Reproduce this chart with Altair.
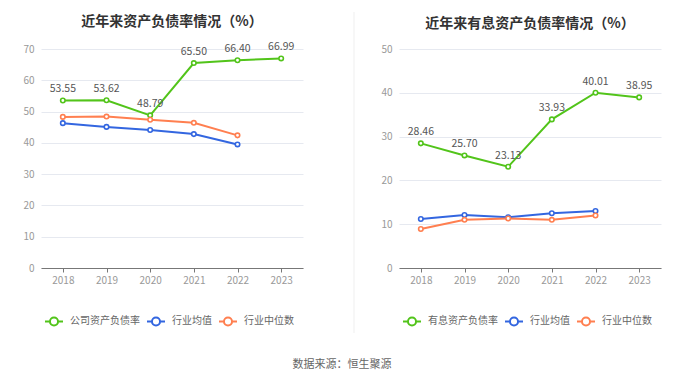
import altair as alt
import pandas as pd

years = ["2018", "2019", "2020", "2021", "2022", "2023"]
years5 = years[:5]

left_company = [53.55, 53.62, 48.79, 65.50, 66.40, 66.99]
left_mean = [46.3, 45.1, 44.1, 42.8, 39.5]
left_median = [48.3, 48.4, 47.4, 46.4, 42.4]

right_company = [28.46, 25.70, 23.13, 33.93, 40.01, 38.95]
right_mean = [11.2, 12.1, 11.6, 12.5, 13.0]
right_median = [8.9, 11.0, 11.3, 11.0, 12.0]

FONT = "Noto Sans CJK SC"
GREEN = "#52c41a"
BLUE = "#3366e0"
ORANGE = "#ff7f50"

SYMBOL = "M-1,0L-0.45,0M0.45,0L1,0M-0.45,0A0.45,0.45,0,1,1,0.45,0A0.45,0.45,0,1,1,-0.45,0"


def make_df(company_name, company, mean, median):
    rows = []
    for y, v in zip(years, company):
        rows.append({"year": y, "value": v, "series": company_name})
    for y, v in zip(years5, mean):
        rows.append({"year": y, "value": v, "series": "行业均值"})
    for y, v in zip(years5, median):
        rows.append({"year": y, "value": v, "series": "行业中位数"})
    return pd.DataFrame(rows)


def panel(title, company_name, company, mean, median, ymax):
    df = make_df(company_name, company, mean, median)
    x = alt.X("year:O", title=None, sort=years,
              scale=alt.Scale(type="point", padding=0.5),
              axis=alt.Axis(labelAngle=0, labelColor="#999", labelFontSize=10,
                            domainColor="#777", tickColor="#777", tickSize=4,
                            labelPadding=3, grid=False, labelFont=FONT))
    y = alt.Y("value:Q", title=None,
              scale=alt.Scale(domain=[0, ymax], nice=False),
              axis=alt.Axis(values=list(range(0, ymax + 1, 10)),
                            labelColor="#999", labelFontSize=10, domain=False, ticks=False,
                            gridColor="#e6e9f0", labelPadding=7, labelFont=FONT))
    cscale = alt.Scale(domain=[company_name, "行业均值", "行业中位数"],
                       range=[GREEN, BLUE, ORANGE])
    color = alt.Color("series:N", title=None, scale=cscale,
                      legend=alt.Legend(orient="none", legendX=3, legendY=262,
                                        direction="horizontal",
                                        symbolType=SYMBOL, symbolSize=324,
                                        symbolStrokeWidth=2, labelColor="#666",
                                        labelFontSize=10, labelFont=FONT,
                                        columnPadding=3, labelOffset=6))
    base = alt.Chart(df)
    lines = base.mark_line(strokeWidth=2).encode(
        x=x, y=y, color=color, detail="series:N")
    pts = base.mark_point(filled=False, fill="white", size=20, strokeWidth=1.6, opacity=1).encode(
        x=x, y=y, color=alt.Color("series:N", legend=None, scale=cscale))
    labels = base.transform_filter(alt.datum.series == company_name).mark_text(
        dy=-11, fontSize=10.5, color="#555", font=FONT).encode(
        x=x, y=y, text=alt.Text("value:Q", format=".2f"))
    return alt.layer(lines, pts, labels).properties(
        width=262, height=219,
        title=alt.TitleParams(title, fontSize=14, font=FONT, fontWeight="bold",
                              color="#333", anchor="middle", offset=13))


left = panel("近年来资产负债率情况（%）", "公司资产负债率", left_company, left_mean, left_median, 70)
right = panel("近年来有息资产负债率情况（%）", "有息资产负债率", right_company, right_mean, right_median, 50)

divider = alt.Chart(pd.DataFrame({"k": [0]})).mark_rule(color="#efefef", strokeWidth=1).encode(
    x=alt.value(41), y=alt.value(-37), y2=alt.value(284)).properties(width=57, height=219)

chart = alt.hconcat(left, divider, right, spacing=10).resolve_scale(color="independent").properties(
    title=alt.TitleParams("数据来源：恒生聚源", orient="bottom", anchor="middle",
                          fontSize=11, font=FONT, color="#666", fontWeight="normal", offset=25),
    padding={"left": 14, "top": 3, "right": 5, "bottom": 0},
    background="white"
).configure_view(strokeWidth=0, stroke=None)

chart.save("out.html", embed_options={"renderer": "svg", "actions": False})
